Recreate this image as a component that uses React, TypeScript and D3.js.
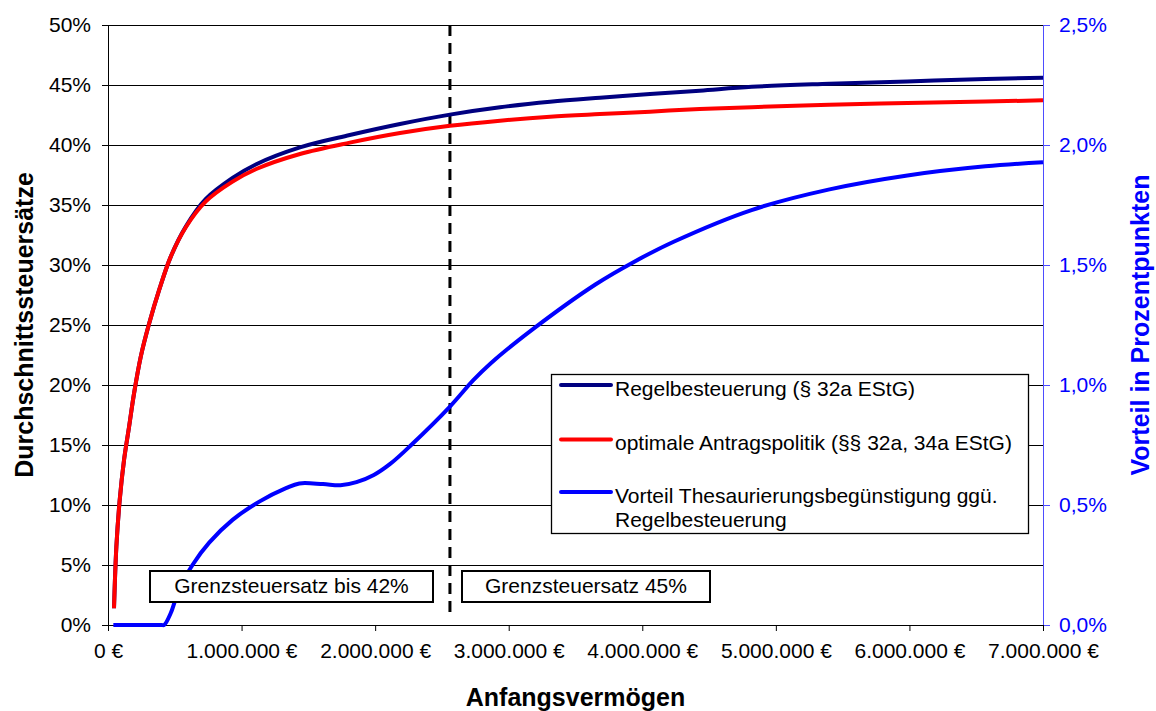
import { useEffect, useRef } from 'react';
import * as d3 from 'd3';

// Anfangsvermögen in Mio. €
const taxX = [0.045, 0.0625, 0.0875, 0.12, 0.1575, 0.195, 0.245, 0.3075, 0.3825, 0.47, 0.5825, 0.7325, 0.9325, 1.11, 1.437, 1.81, 2.186, 2.56, 2.935, 3.31, 3.683, 4.058, 4.43, 4.82, 5.4, 5.985, 6.57, 7.0];
// Durchschnittssteuersätze in %
const regel = [1.4, 6.5, 10.4, 13.75, 16.5, 19.3, 22.35, 25.1, 27.9, 30.7, 33.2, 35.5, 37.25, 38.4, 39.8, 40.83, 41.75, 42.53, 43.14, 43.6, 43.94, 44.25, 44.53, 44.85, 45.1, 45.3, 45.5, 45.6];
const optimal = [1.4, 6.5, 10.4, 13.75, 16.5, 19.3, 22.35, 25.1, 27.9, 30.7, 33.15, 35.3, 36.95, 38.0, 39.25, 40.2, 41.0, 41.6, 42.03, 42.36, 42.58, 42.78, 43.0, 43.15, 43.35, 43.5, 43.62, 43.73];

// Vorteil in Prozentpunkten
const vorteilX = [0.04, 0.4, 0.42, 0.47, 0.5325, 0.6325, 0.7575, 0.9325, 1.1325, 1.3325, 1.4325, 1.61, 1.74, 1.86, 1.99, 2.11, 2.27, 2.56, 2.735, 2.864, 3.186, 3.652, 3.944, 4.235, 4.818, 5.402, 5.985, 6.569, 7.0];
const vorteil = [0, 0, 0, 0.05, 0.15, 0.25, 0.343, 0.438, 0.514, 0.57, 0.59, 0.587, 0.582, 0.595, 0.625, 0.67, 0.75, 0.91, 1.02, 1.09, 1.235, 1.42, 1.515, 1.597, 1.729, 1.815, 1.873, 1.911, 1.928];

const xTicks = [0, 1, 2, 3, 4, 5, 6, 7];
const leftTicks = [0, 5, 10, 15, 20, 25, 30, 35, 40, 45, 50];
const rightTicks = [0, 0.5, 1.0, 1.5, 2.0, 2.5];

const grenzeX = 2.56;
const seriesLabels = ['Regelbesteuerung (§ 32a EStG)', 'optimale Antragspolitik (§§ 32a, 34a EStG)', 'Vorteil Thesaurierungsbegünstigung ggü.|Regelbesteuerung'];
const seriesColors = ['#000080', '#ff0000', '#0000ff'];
const boxLabels = ['Grenzsteuersatz bis 42%', 'Grenzsteuersatz 45%'];

const FONT = '"Liberation Sans", Arial, sans-serif';

const App = () => {
    const svgRef = useRef<SVGSVGElement>(null);

    useEffect(() => {
        document.body.style.margin = '0';
        if (!svgRef.current) return;
        d3.select(svgRef.current).selectAll('*').remove();

        const width = 1156, height = 711;
        const margin = { top: 25, right: 113, bottom: 86, left: 108 };
        const innerWidth = width - margin.left - margin.right;
        const innerHeight = height - margin.top - margin.bottom;

        const svg = d3.select(svgRef.current)
            .attr('width', width)
            .attr('height', height)
            .style('font-family', FONT)
            .append('g')
            .attr('transform', `translate(${margin.left},${margin.top})`);

        const x = d3.scaleLinear().domain([0, 7]).range([0, innerWidth]);
        const yL = d3.scaleLinear().domain([0, 50]).range([innerHeight, 0]);
        const yR = d3.scaleLinear().domain([0, 2.5]).range([innerHeight, 0]);

        const euro = d3.formatLocale({ decimal: ',', thousands: '.', grouping: [3], currency: ['', ' €'] }).format('$,.0f');

        // grid lines
        svg.append('g')
            .selectAll('line')
            .data(leftTicks.filter(d => d > 0))
            .enter()
            .append('line')
            .attr('x1', 0)
            .attr('x2', innerWidth)
            .attr('y1', d => Math.round(yL(d)) + 0.5)
            .attr('y2', d => Math.round(yL(d)) + 0.5)
            .attr('stroke', '#000')
            .attr('stroke-width', 1)
            .attr('shape-rendering', 'crispEdges');

        // left axis
        const leftAxis = svg.append('g')
            .call(d3.axisLeft(yL).tickValues(leftTicks).tickSize(6).tickPadding(11).tickFormat(d => `${d}%`));
        leftAxis.selectAll('text').style('font-size', '21px').style('font-family', FONT).attr('fill', '#000');
        leftAxis.selectAll('line, path').attr('stroke', '#000');

        // right axis
        const rightAxis = svg.append('g')
            .attr('transform', `translate(${innerWidth},0)`)
            .call(d3.axisRight(yR).tickValues(rightTicks).tickSize(7).tickPadding(9)
                .tickFormat(d => (d as number).toFixed(1).replace('.', ',') + '%'));
        rightAxis.selectAll('text').style('font-size', '21px').style('font-family', FONT).attr('fill', '#0000ff');
        rightAxis.selectAll('line, path').attr('stroke', '#4d4dff');

        // bottom axis
        const bottomAxis = svg.append('g')
            .attr('transform', `translate(0,${innerHeight})`)
            .call(d3.axisBottom(x).tickValues(xTicks).tickSize(6).tickPadding(12).tickFormat(d => euro((d as number) * 1e6)));
        bottomAxis.selectAll('text').style('font-size', '21px').style('font-family', FONT).attr('fill', '#000');
        bottomAxis.selectAll('line, path').attr('stroke', '#000');

        // Grenze (dashed)
        svg.append('line')
            .attr('x1', x(grenzeX))
            .attr('x2', x(grenzeX))
            .attr('y1', yL(50))
            .attr('y2', yL(0.7))
            .attr('stroke', '#000')
            .attr('stroke-width', 3)
            .attr('stroke-dasharray', '11,7');

        // curves
        const lineL = d3.line<number>()
            .x((_, i) => x(taxX[i]))
            .y(d => yL(d))
            .curve(d3.curveCatmullRom.alpha(0.5));

        const lineR = d3.line<number>()
            .x((_, i) => x(vorteilX[i]))
            .y(d => yR(d))
            .curve(d3.curveCatmullRom.alpha(0.5));

        svg.append('path')
            .datum(vorteil)
            .attr('fill', 'none')
            .attr('stroke', seriesColors[2])
            .attr('stroke-width', 4)
            .attr('stroke-linejoin', 'round')
            .attr('d', lineR);

        svg.append('path')
            .datum(regel)
            .attr('fill', 'none')
            .attr('stroke', seriesColors[0])
            .attr('stroke-width', 4)
            .attr('stroke-linejoin', 'round')
            .attr('d', lineL);

        svg.append('path')
            .datum(optimal)
            .attr('fill', 'none')
            .attr('stroke', seriesColors[1])
            .attr('stroke-width', 4)
            .attr('stroke-linejoin', 'round')
            .attr('d', lineL);

        // Grenzsteuersatz boxes
        const boxes = [
            { x0: 150, x1: 433, label: boxLabels[0] },
            { x0: 462, x1: 710, label: boxLabels[1] },
        ];
        boxes.forEach(b => {
            const g = svg.append('g').attr('transform', `translate(${-margin.left},${-margin.top})`);
            g.append('rect')
                .attr('x', b.x0)
                .attr('y', 571)
                .attr('width', b.x1 - b.x0)
                .attr('height', 31)
                .attr('fill', '#fff')
                .attr('stroke', '#000')
                .attr('stroke-width', 2);
            g.append('text')
                .attr('x', (b.x0 + b.x1) / 2)
                .attr('y', 593)
                .attr('text-anchor', 'middle')
                .style('font-size', '21px')
                .text(b.label);
        });

        // legend
        const legend = svg.append('g').attr('transform', `translate(${551 - margin.left},${374 - margin.top})`);
        legend.append('rect')
            .attr('x', 0.5)
            .attr('y', 0.5)
            .attr('width', 477)
            .attr('height', 159)
            .attr('fill', '#fff')
            .attr('stroke', '#000')
            .attr('stroke-width', 1.3);
        const rowY = [11, 65.5, 118];
        seriesLabels.forEach((label, i) => {
            legend.append('line')
                .attr('x1', 10)
                .attr('x2', 60)
                .attr('y1', rowY[i])
                .attr('y2', rowY[i])
                .attr('stroke', seriesColors[i])
                .attr('stroke-width', 4)
                .attr('stroke-linecap', 'round');
            label.split('|').forEach((part, j) => {
                legend.append('text')
                    .attr('x', 64)
                    .attr('y', rowY[i] + 10.5 + j * 24)
                    .style('font-size', '21px')
                    .attr('fill', '#000')
                    .text(part);
            });
        });

        // axis titles
        svg.append('text')
            .attr('x', innerWidth / 2)
            .attr('y', 706 - margin.top)
            .attr('text-anchor', 'middle')
            .style('font-size', '25px')
            .style('font-weight', 'bold')
            .text('Anfangsvermögen');

        svg.append('text')
            .attr('transform', `translate(${33 - margin.left},${innerHeight / 2}) rotate(-90)`)
            .attr('text-anchor', 'middle')
            .style('font-size', '25px')
            .style('font-weight', 'bold')
            .text('Durchschnittssteuersätze');

        svg.append('text')
            .attr('transform', `translate(${1149 - margin.left},${innerHeight / 2}) rotate(-90)`)
            .attr('text-anchor', 'middle')
            .attr('fill', '#0000ff')
            .style('font-size', '25px')
            .style('font-weight', 'bold')
            .text('Vorteil in Prozentpunkten');
    }, []);

    return (
        <svg ref={svgRef} role="img" style={{ display: 'block' }}
            aria-label="Durchschnittssteuersätze nach Anfangsvermögen"></svg>
    );
};

export default App;
